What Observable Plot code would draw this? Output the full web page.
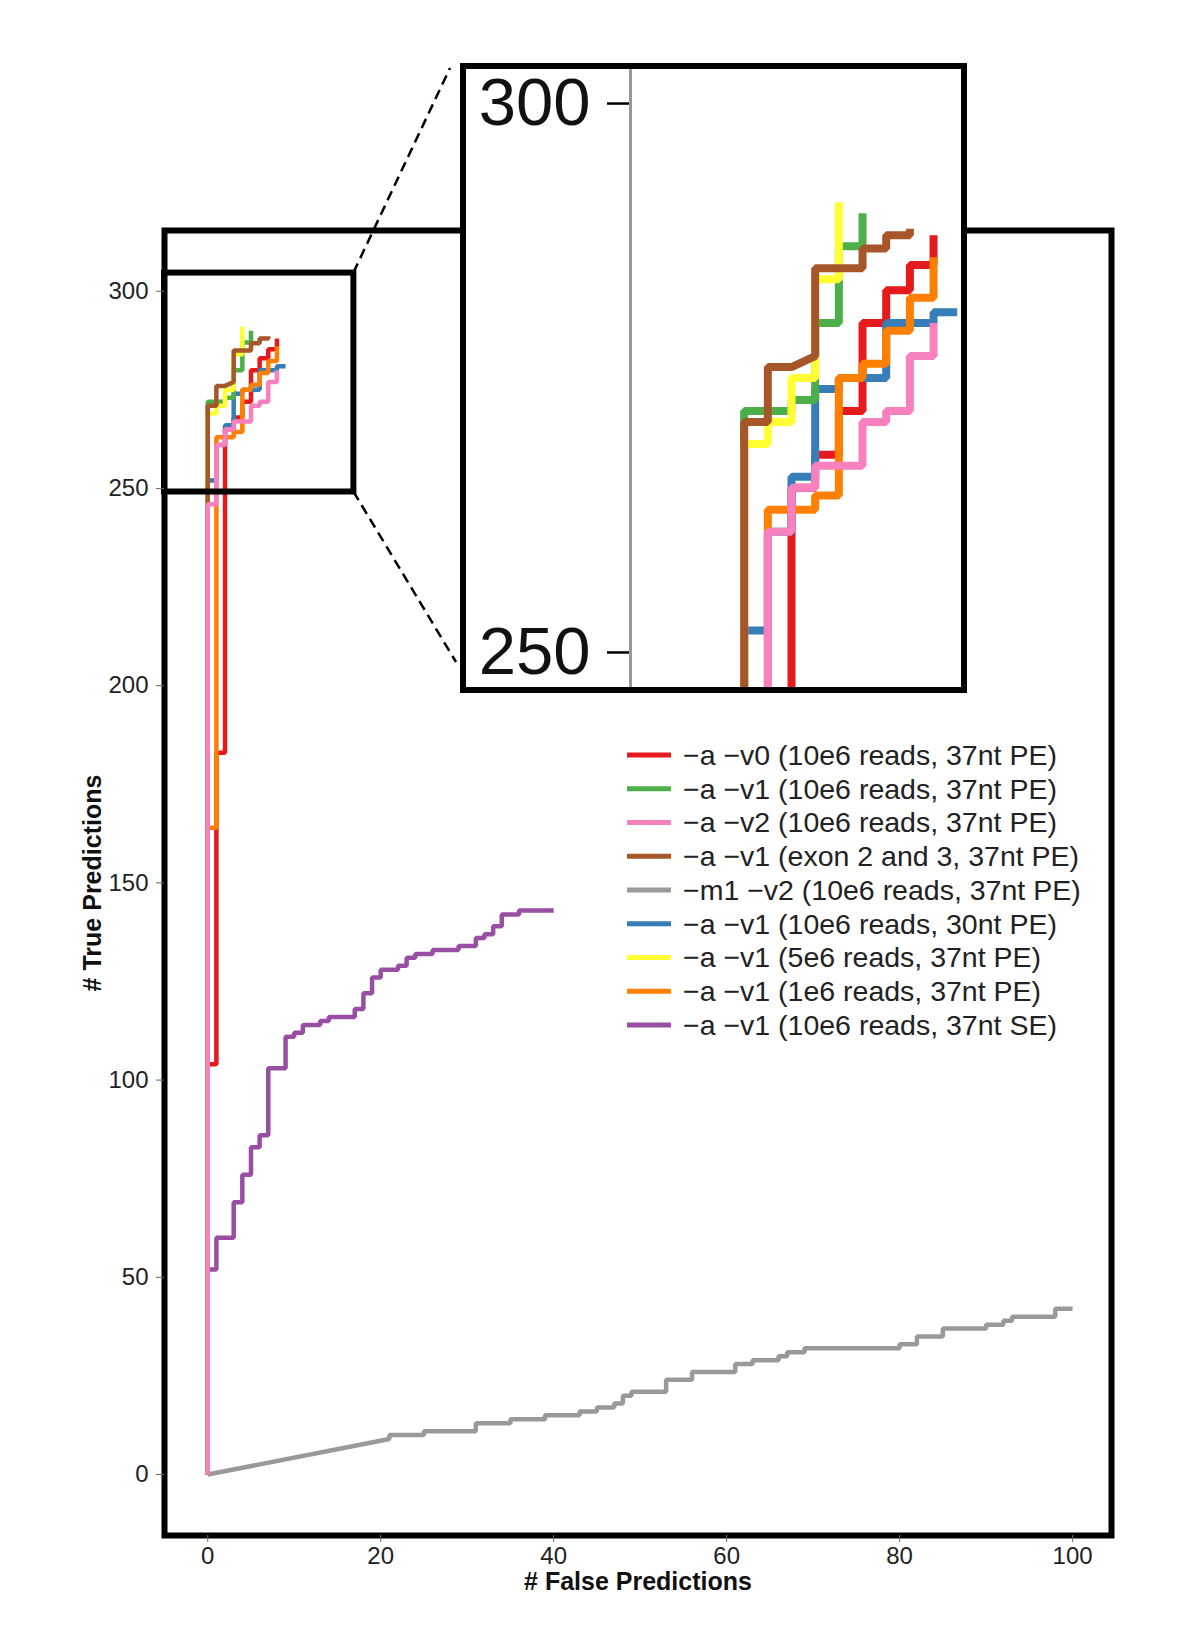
<!DOCTYPE html>
<html><head><meta charset="utf-8">
<script src="https://cdn.jsdelivr.net/npm/d3@7"></script>
<script src="https://cdn.jsdelivr.net/npm/@observablehq/plot@0.6"></script>
<style>
body{margin:0;background:#fff;}
#wrap{position:relative;width:1200px;height:1642px;font-family:"Liberation Sans",Arial,sans-serif;}
#main{position:absolute;left:0;top:0;}
#overlay{position:absolute;left:0;top:0;pointer-events:none;}
#inset{position:absolute;left:460px;top:63px;width:507px;height:630px;border:6px solid #000;box-sizing:border-box;background:#fff;overflow:hidden;}
</style></head>
<body>
<div id="wrap"><div id="main"></div><svg id="overlay" width="1200" height="1642"></svg><div id="inset"></div></div>
<script>
// ---- data: [false predictions, true predictions] vertices ----
const v0_10e6_37PE = [[0,0],[0,104],[1,104],[1,183],[2,183],[2,265],[3,265],[3,268],[4,268],[4,272],[5,272],[5,280],[6,280],[6,283],[7,283],[7,285.3],[8,285.3],[8,288]];
const v1_10e6_37PE = [[0,0],[0,272],[2,272],[2,273],[3,273],[3,280],[4,280],[4,287],[5,287],[5,290]];
const v2_10e6_37PE = [[0,0],[0,246],[1,246],[1,261],[2,261],[2,265],[3,265],[3,267],[5,267],[5,271],[6,271],[6,272],[7,272],[7,277],[8,277],[8,280]];
const v1_exon23_37PE = [[0,0],[0,271],[1,271],[1,276],[2,276],[3,277],[3,285],[5,285],[5,286.8],[6,286.8],[6,288],[7,288],[7,288.6]];
const m1v2_10e6_37PE = [[0,0],[21,9],[21,10],[25,10],[25,11],[31,11],[31,13],[35,13],[35,14],[39,14],[39,15],[43,15],[43,16],[45,16],[45,17],[47,17],[47,18],[48,18],[48,20],[49,20],[49,21],[53,21],[53,24],[56,24],[56,26],[61,26],[61,28],[63,28],[63,29],[66,29],[66,30],[67,30],[67,31],[69,31],[69,32],[80,32],[80,33],[82,33],[82,35],[85,35],[85,37],[90,37],[90,38],[92,38],[92,39],[93,39],[93,40],[98,40],[98,42],[100,42]];
const v1_10e6_30PE = [[0,0],[0,252],[1,252],[1,261],[2,261],[2,266],[3,266],[3,274],[4,274],[4,275],[6,275],[6,280],[8,280],[8,281],[9,281]];
const v1_5e6_37PE = [[0,0],[0,269],[1,269],[1,271],[2,271],[2,275],[3,275],[3,284],[4,284],[4,291]];
const v1_1e6_37PE = [[0,0],[0,164],[1,164],[1,263],[3,263],[3,264.3],[4,264.3],[4,275],[5,275],[5,276.3],[6,276.3],[6,279.3],[7,279.3],[7,282.3],[8,282.3],[8,286]];
const v1_10e6_37SE = [[0,0],[0,52],[1,52],[1,60],[3,60],[3,69],[4,69],[4,76],[5,76],[5,83],[6,83],[6,86],[7,86],[7,103],[9,103],[9,111],[10,111],[10,112],[11,112],[11,114],[13,114],[13,115],[14,115],[14,116],[17,116],[17,118],[18,118],[18,122],[19,122],[19,126],[20,126],[20,128],[22,128],[22,129],[23,129],[23,131],[24,131],[24,132],[26,132],[26,133],[29,133],[29,134],[31,134],[31,136],[32,136],[32,137],[33,137],[33,139],[34,139],[34,142],[36,142],[36,143],[40,143]];

const seriesNames = ["−a −v0 (10e6 reads, 37nt PE)","−a −v1 (10e6 reads, 37nt PE)","−a −v2 (10e6 reads, 37nt PE)","−a −v1 (exon 2 and 3, 37nt PE)","−m1 −v2 (10e6 reads, 37nt PE)","−a −v1 (10e6 reads, 30nt PE)","−a −v1 (5e6 reads, 37nt PE)","−a −v1 (1e6 reads, 37nt PE)","−a −v1 (10e6 reads, 37nt SE)"];
const seriesData = [v0_10e6_37PE,v1_10e6_37PE,v2_10e6_37PE,v1_exon23_37PE,m1v2_10e6_37PE,v1_10e6_30PE,v1_5e6_37PE,v1_1e6_37PE,v1_10e6_37SE];
const seriesColors = ["#E41A1C","#4DAF4A","#F781BF","#A65628","#999999","#377EB8","#FFFF33","#FF7F00","#984EA3"];
const drawOrder = [4,8,0,5,1,6,7,3,2];

const xTicks = [0,20,40,60,80,100];
const yTicks = [0,50,100,150,200,250,300];
const insetTicks = [250,300];
const zoomWindow = {x1:-5, x2:16.9, y1:249.1, y2:304.6};

const font = '"Liberation Sans", Arial, sans-serif';

function lineMarks(w, clip) {
  return drawOrder.map(i => Plot.line(seriesData[i], {
    x: d => d[0], y: d => d[1], stroke: seriesColors[i], strokeWidth: w,
    strokeLinejoin: "miter", strokeLinecap: "butt", clip
  }));
}

const main = Plot.plot({
  width: 1200, height: 1642,
  marginLeft: 164, marginRight: 89, marginTop: 230, marginBottom: 107,
  x: {domain: [-5, 104.5], label: null},
  y: {domain: [-15.46, 315.4], label: null},
  style: {fontFamily: font, background: "white", color: "#222"},
  marks: [
    ...lineMarks(4.5, false),
    Plot.rect([zoomWindow], {x1: "x1", x2: "x2", y1: "y1", y2: "y2", fill: "none", stroke: "#000", strokeWidth: 6}),
    Plot.frame({stroke: "#000", strokeWidth: 6}),
    Plot.axisY({ticks: yTicks, tickSize: 8, tickPadding: 8, fontSize: 24, stroke: "#666", label: null}),
    Plot.axisX({ticks: xTicks, tickSize: 7, tickPadding: 4, fontSize: 24, stroke: "#666", label: null}),
    Plot.text(["# True Predictions"], {text: d => d, frameAnchor: "left", dx: -72, rotate: -90, textAnchor: "middle", lineAnchor: "middle", fontSize: 25, fontWeight: "bold", fill: "#111"}),
    Plot.text(["# False Predictions"], {text: d => d, frameAnchor: "bottom", dy: 46, textAnchor: "middle", lineAnchor: "middle", fontSize: 25, fontWeight: "bold", fill: "#111"})
  ]
});
document.getElementById("main").appendChild(main);

const inset = Plot.plot({
  width: 495, height: 618,
  marginLeft: 164, marginRight: 0, marginTop: 0, marginBottom: 0,
  x: {domain: [-4.8, 9.18], label: null, axis: null},
  y: {domain: [246.81, 303.1], label: null},
  style: {fontFamily: font, background: "white", color: "#111", overflow: "visible"},
  marks: [
    ...lineMarks(8, true),
    Plot.axisY({ticks: insetTicks, tickSize: 23, tickPadding: 17, fontSize: 67, stroke: "#000", strokeWidth: 2.5, label: null}),
    Plot.frame({anchor: "left", stroke: "#999", strokeWidth: 3})
  ]
});
document.getElementById("inset").appendChild(inset);

// ---- overlay: connectors and legend ----
const sx = main.scale("x"), sy = main.scale("y");
const ov = d3.select("#overlay");
const insetBox = {left: 460, top: 63, height: 630};
const connectors = [
  {from: [sx.apply(zoomWindow.x2), sy.apply(zoomWindow.y2)], to: [insetBox.left - 10, insetBox.top + 5]},
  {from: [sx.apply(zoomWindow.x2), sy.apply(zoomWindow.y1)], to: [insetBox.left - 4, insetBox.top + 599]}
];
ov.selectAll("line.conn").data(connectors).join("line").attr("class", "conn")
  .attr("x1", d => d.from[0]).attr("y1", d => d.from[1])
  .attr("x2", d => d.to[0]).attr("y2", d => d.to[1])
  .attr("stroke", "#000").attr("stroke-width", 2.5).attr("stroke-dasharray", "10,6");

const rowY = d3.scalePoint().domain(d3.range(seriesNames.length)).range([755, 1025]);
const leg = ov.append("g").attr("font-family", font).attr("font-size", 28.5).attr("fill", "#222");
const rows = leg.selectAll("g").data(seriesNames).join("g").attr("transform", (d, i) => `translate(0,${rowY(i)})`);
rows.append("line").attr("x1", 627).attr("x2", 671).attr("stroke-width", 5).attr("stroke", (d, i) => seriesColors[i]);
rows.append("text").attr("x", 683).attr("dy", "0.35em").text(d => d);
</script>
</body></html>
